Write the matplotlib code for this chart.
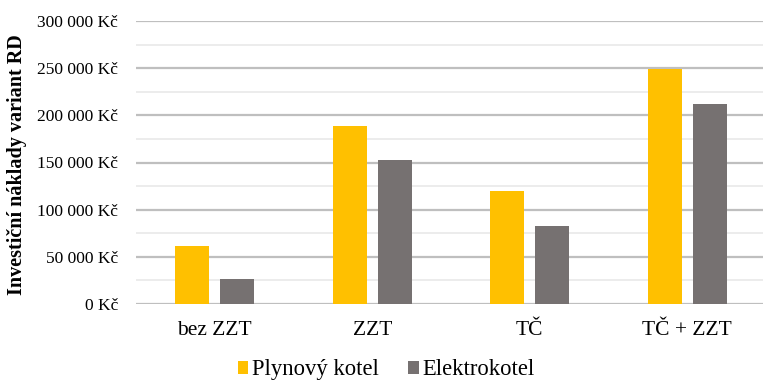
import numpy as np
import matplotlib.pyplot as plt
from matplotlib.ticker import MultipleLocator, FuncFormatter

categories = ['bez ZZT', 'ZZT', 'TČ', 'TČ + ZZT']
plynovy_kotel = [61000, 189000, 120000, 249000]
elektrokotel = [26000, 153000, 83000, 212000]
series_names = ['Plynový kotel', 'Elektrokotel']

plt.rcParams['font.family'] = ['Liberation Serif', 'DejaVu Serif']

fig = plt.figure(figsize=(7.63, 3.82), dpi=100)
ax = fig.add_axes([136 / 763, 78 / 382, 630 / 763, 283 / 382])

x = np.arange(len(categories))
w = 0.218
off = 0.143
ax.bar(x - off, plynovy_kotel, w, color='#FFC000', label=series_names[0], zorder=3)
ax.bar(x + off, elektrokotel, w, color='#767171', label=series_names[1], zorder=3)

ax.set_xlim(-0.5, 3.5)
ax.set_ylim(0, 300000)
ax.yaxis.set_major_locator(MultipleLocator(50000))
ax.yaxis.set_minor_locator(MultipleLocator(25000))
ax.yaxis.set_major_formatter(FuncFormatter(
    lambda v, p: f'{int(v):,} Kč'.replace(',', ' ')))
ax.grid(axis='y', which='major', color='#bfbfbf', linewidth=1.6, zorder=0)
ax.grid(axis='y', which='minor', color='#ececec', linewidth=1.4, zorder=0)

ax.set_xticks(x)
ax.set_xticklabels(categories, fontsize=15.5)
ax.tick_params(axis='x', length=0, pad=12)
ax.tick_params(axis='y', which='both', length=0, labelsize=12.5, pad=13)
for s in ax.spines.values():
    s.set_visible(False)

# y label, centred on the plot height
fig.text(17 / 763, 1 - 165 / 382, 'Investiční náklady variant RD', rotation=90,
         fontsize=14.5, fontweight='bold', ha='center', va='center')

fig.legend(loc='center', bbox_to_anchor=(0.506, 0.032), ncol=2, frameon=False,
           fontsize=16.3, handlelength=0.48, handleheight=0.48, handletextpad=0.15,
           columnspacing=1.3, borderaxespad=0, borderpad=0)

fig.savefig('out.png', dpi=100)
